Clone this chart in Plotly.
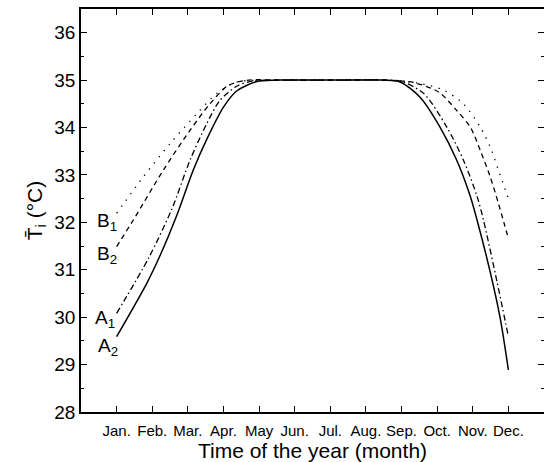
import plotly.graph_objects as go

months = ["Jan.", "Feb.", "Mar.", "Apr.", "May", "Jun.", "Jul.", "Aug.", "Sep.", "Oct.", "Nov.", "Dec."]
month_pos = list(range(1, 13))

# A2 (solid)
a2_x = [1, 1.85, 2.22, 2.69, 3.15, 3.53, 4.0, 4.37, 4.94, 5.5, 7, 8.5, 8.96, 9.52, 10.08, 10.55, 10.93, 11.12, 11.49, 11.77, 12.0]
a2_y = [29.59, 30.72, 31.3, 32.15, 33.1, 33.75, 34.43, 34.77, 34.97, 35.0, 35.0, 35.0, 34.96, 34.64, 34.01, 33.31, 32.55, 32.05, 30.95, 29.98, 28.89]
# A1 (dash-dot)
a1_x = [1, 1.9, 2.55, 3.06, 3.53, 3.9, 4.37, 4.8, 5.5, 7, 8.5, 9.0, 9.62, 10.27, 10.74, 11.12, 11.3, 11.68, 12]
a1_y = [30.08, 31.25, 32.28, 33.31, 34.08, 34.57, 34.87, 34.98, 35, 35, 35, 34.97, 34.72, 34.01, 33.31, 32.55, 32.05, 30.75, 29.59]
# B2 (dashed)
b2_x = [1, 1.47, 2.31, 3.06, 3.62, 4.14, 4.7, 5.5, 7, 8.5, 9.33, 10.04, 10.55, 10.93, 11.21, 11.49, 11.72, 11.88, 12]
b2_y = [31.49, 32.05, 33.1, 33.94, 34.5, 34.89, 35.0, 35, 35, 35, 34.95, 34.75, 34.36, 34.01, 33.52, 32.96, 32.4, 31.98, 31.66]
# B1 (dotted)
b1_x = [1, 1.75, 2.5, 3.25, 3.81, 4.37, 5.0, 5.5, 7, 8.5, 9.52, 10.18, 10.74, 11.21, 11.49, 11.72, 12]
b1_y = [32.19, 32.96, 33.66, 34.29, 34.72, 34.96, 35, 35, 35, 35, 34.93, 34.79, 34.5, 34.01, 33.59, 33.1, 32.5]

labels = ["B<sub>1</sub>", "B<sub>2</sub>", "A<sub>1</sub>", "A<sub>2</sub>"]
label_x = [0.72, 0.72, 0.68, 0.77]
label_y = [32.0, 31.31, 29.96, 29.38]

FONT = "Arial, Liberation Sans, sans-serif"
fig = go.Figure()
series = [
    (b1_x, b1_y, "1.3px,6.5px", 1.3),
    (b2_x, b2_y, "5px,4px", 1.3),
    (a1_x, a1_y, "6px,3px,1.5px,3px", 1.3),
    (a2_x, a2_y, "solid", 1.5),
]
for xs, ys, dash, w in series:
    fig.add_trace(go.Scatter(x=xs, y=ys, mode="lines",
                             line=dict(color="black", width=w, dash=dash, shape="spline", smoothing=0.8),
                             showlegend=False, hoverinfo="skip"))

for t, lx, ly in zip(labels, label_x, label_y):
    fig.add_annotation(x=lx, y=ly, text=t, showarrow=False,
                       font=dict(family=FONT, size=19, color="black"))

fig.update_layout(
    width=544, height=462,
    margin=dict(l=81, r=0, t=9, b=50),
    paper_bgcolor="white", plot_bgcolor="white",
    font=dict(family=FONT, color="black"),
)
fig.update_xaxes(
    range=[0, 13], tickvals=month_pos, ticktext=months,
    ticks="inside", ticklen=6, tickwidth=1.2, tickcolor="black",
    showline=True, linecolor="black", linewidth=1.8, mirror="ticks",
    showgrid=False, zeroline=False,
    tickfont=dict(family=FONT, size=15), ticklabelstandoff=4,
    title=dict(text="Time of the year (month)", font=dict(family=FONT, size=21), standoff=5),
    automargin=False,
)
fig.update_yaxes(
    range=[28, 36.5], tickvals=[28, 29, 30, 31, 32, 33, 34, 35, 36],
    ticks="inside", ticklen=6, tickwidth=1.2, tickcolor="black",
    minor=dict(dtick=0.5, tick0=28, ticks="inside", ticklen=3, tickwidth=1, tickcolor="black"),
    showline=True, linecolor="black", linewidth=1.8, mirror="ticks",
    showgrid=False, zeroline=False,
    tickfont=dict(family=FONT, size=19),
    title=dict(text="T\u0304<sub>i</sub> (°C)", font=dict(family=FONT, size=21), standoff=6),
    automargin=False,
)
fig.write_html("out.html")
